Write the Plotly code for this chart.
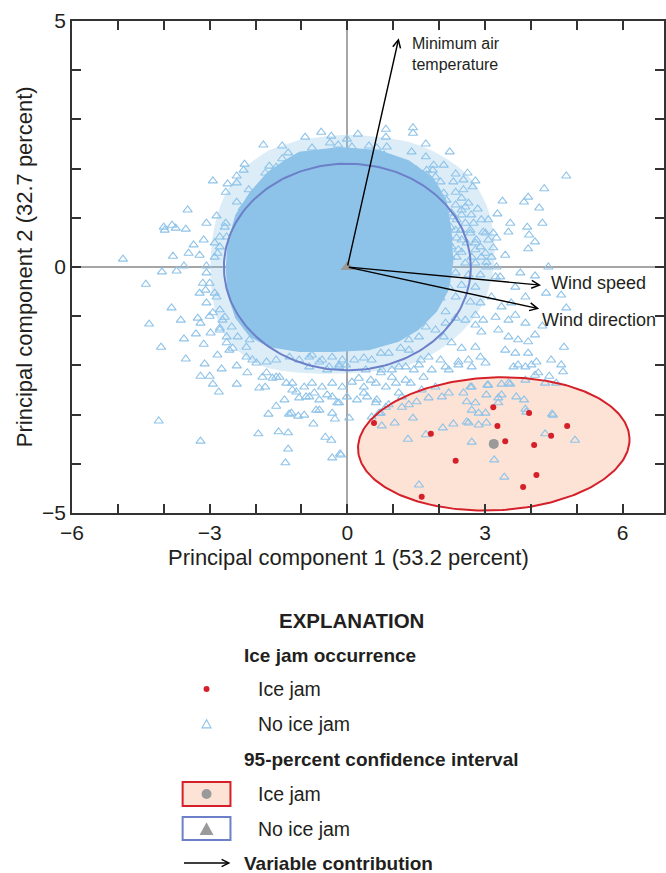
import numpy as np
import plotly.graph_objects as go

# ---------------------------------------------------------------------------
# Principal component scores
# ---------------------------------------------------------------------------
ice_jam_pc1 = [0.58, 3.18, 3.96, 3.27, 4.79, 1.82, 4.44, 3.44, 4.07, 2.36, 4.12, 3.83, 1.62]
ice_jam_pc2 = [-3.17, -2.85, -2.97, -3.23, -3.23, -3.39, -3.43, -3.54, -3.62, -3.94, -4.23, -4.47, -4.67]

# No-ice-jam days: outline of the solid (fully overplotted) centre of the cloud
core_pc1 = [-1.05, -0.18, 0.69, 1.34, 1.88, 2.16, 2.27, 2.31, 2.21, 1.95, 1.55, 1.12, 0.47,
            -0.29, -1.05, -1.70, -2.13, -2.44, -2.61, -2.65, -2.61, -2.44, -2.13, -1.74, -1.37]
core_pc2 = [2.34, 2.44, 2.38, 2.17, 1.81, 1.36, 0.75, 0.10, -0.47, -0.91, -1.28, -1.52, -1.69,
            -1.73, -1.73, -1.63, -1.42, -1.04, -0.57, -0.02, 0.51, 1.06, 1.52, 1.93, 2.17]

# No-ice-jam days: outline of the heavily overplotted band around the centre
band_pc1 = [-1.05, -0.18, 0.69, 1.55, 2.21, 2.68, 3.03, 3.20, 3.16, 2.94, 2.53, 1.99, 1.34,
            0.47, -0.40, -1.26, -1.92, -2.39, -2.74, -2.93, -2.98, -2.91, -2.67, -2.24, -1.70]
band_pc2 = [2.58, 2.68, 2.64, 2.48, 2.17, 1.81, 1.26, 0.55, -0.16, -0.77, -1.28, -1.69, -1.99,
            -2.13, -2.17, -2.13, -1.99, -1.69, -1.28, -0.67, 0.04, 0.75, 1.46, 2.01, 2.38]

# No-ice-jam days: individually visible scores, (PC1, PC2)
no_jam_upper_left = [
    (-1.83, 2.48), (-1.42, 2.46), (-1.29, 2.32), (-1.42, 2.20), (-2.24, 2.09), (-2.26, 1.97),
    (-1.70, 2.05), (-1.79, 1.91), (-2.41, 1.85), (-2.93, 1.75), (-2.61, 1.69), (-2.41, 1.71),
    (-2.65, 1.52), (-2.15, 1.57), (-1.89, 1.63), (-3.48, 1.16), (-2.85, 1.04), (-2.41, 1.32),
    (-2.28, 1.20), (-1.98, 1.36), (-3.07, 0.89), (-4.00, 0.81), (-3.82, 0.85), (-3.74, 0.79),
    (-3.52, 0.77), (-3.98, 0.75), (-2.65, 0.89), (-3.13, 0.55), (-3.35, 0.45), (-3.46, 0.28),
    (-3.22, 0.24), (-3.80, 0.22), (-2.89, 0.49), (-2.83, 0.28), (-4.89, 0.16), (-3.56, 0.02),
    (-3.07, 0.02), (-2.78, 0.61), (-0.92, 2.64), (-0.57, 2.74), (-0.35, 2.66), (-0.38, 2.52),
    (-0.20, 2.48), (-0.77, 2.42), (-0.42, 2.30), (-1.55, 2.03), (-2.67, 0.81), (-2.63, 0.61),
    (-2.78, 0.41), (-2.89, 0.20),
]
no_jam_upper_right = [
    (-0.01, 2.60), (0.10, 2.44), (0.23, 2.70), (0.47, 2.46), (0.64, 2.42), (0.84, 2.80),
    (0.84, 2.64), (0.86, 2.44), (0.80, 2.28), (0.62, 2.28), (1.43, 2.83), (1.43, 2.72),
    (1.71, 2.50), (1.40, 2.34), (1.71, 2.24), (2.23, 2.34), (1.88, 2.07), (2.10, 2.07),
    (1.86, 1.97), (2.36, 1.89), (2.62, 1.91), (2.53, 1.77), (2.31, 1.73), (2.73, 1.63),
    (2.79, 1.75), (1.73, 1.87), (1.60, 1.83), (1.66, 1.71), (1.92, 1.83), (2.03, 1.73),
    (1.92, 1.61), (2.10, 1.50), (2.36, 1.52), (2.49, 1.40), (2.64, 1.30), (2.84, 1.18),
    (2.92, 0.96), (3.01, 0.69), (2.79, 0.49), (2.90, 0.41), (2.71, 0.20), (2.79, 0.08),
    (2.49, 1.16), (2.31, 1.02), (2.57, 0.89), (2.68, 0.75), (2.36, 0.75), (2.49, 0.55),
    (2.21, 0.49), (2.42, 0.35), (2.25, 0.20), (1.92, 1.22), (2.14, 1.16), (1.77, 1.42),
    (2.16, 1.36), (1.84, 1.02), (2.05, 0.89), (1.77, 0.75), (1.92, 0.61), (1.77, 0.35),
    (1.92, 0.20), (3.01, 0.28), (3.03, 0.10),
]
no_jam_right_band = [
    (2.53, 1.57), (2.57, 1.22), (2.36, 1.26), (2.27, 1.10), (2.49, 1.06), (2.70, 1.06),
    (3.07, 0.96), (2.96, 0.71), (3.18, 0.69), (3.25, 0.59), (2.75, 0.89), (2.38, 0.96),
    (2.25, 0.81), (2.47, 0.75), (2.68, 0.69), (2.81, 0.55), (3.07, 0.55), (3.18, 0.39),
    (2.79, 0.35), (2.60, 0.49), (2.38, 0.59), (2.21, 0.61), (2.27, 0.41), (2.49, 0.30),
    (2.92, 0.20), (3.14, 0.20), (3.03, 0.00), (3.25, 0.00), (3.33, -0.20), (2.57, 0.08),
    (2.38, 0.20), (2.16, 0.28), (2.10, 0.49), (2.03, 0.75), (1.94, 1.00), (2.03, 1.20),
    (1.94, 1.36), (1.88, 1.52), (1.51, 1.97), (1.73, 1.97), (1.29, 2.01), (1.19, 2.03),
    (1.08, 1.87),
]
no_jam_far_right = [
    (4.77, 1.85), (4.29, 1.59), (3.94, 1.42), (3.85, 1.32), (3.38, 1.34), (4.18, 1.20),
    (3.55, 0.89), (3.27, 1.08), (3.92, 0.81), (4.25, 0.89), (3.96, 0.65), (4.09, 0.51),
    (3.94, 0.37), (3.51, 0.71), (4.38, 0.00), (3.44, 0.24), (3.77, -0.12), (4.09, -0.18),
    (4.33, -0.53), (4.66, -0.57), (4.77, -0.83), (4.25, -1.20), (4.72, -1.63), (3.88, -0.61),
    (3.66, -0.41), (3.57, -0.73), (3.36, -0.81), (3.23, -0.20), (3.66, -0.98), (3.51, -1.08),
    (3.88, -1.14), (4.09, -1.38), (3.94, -1.52), (3.72, -1.48), (3.51, -1.42), (3.66, -1.75),
    (3.94, -1.75), (4.12, -1.93), (4.44, -1.89), (4.66, -1.99), (4.70, -2.13), (4.16, -2.15),
    (3.88, -2.03), (3.62, -2.03), (3.44, -1.69), (3.29, -1.28), (3.23, -1.02), (3.14, -0.61),
    (4.55, -2.36), (4.31, -2.36), (3.88, -2.30), (3.51, -2.36), (3.36, -2.60), (3.68, -2.64),
    (3.88, -2.89), (4.48, -3.01), (3.07, -2.40), (2.71, -2.44), (2.79, -2.76), (3.29, -2.76),
    (3.01, -2.97), (2.64, -3.17), (2.86, -3.21),
]
no_jam_lower_left = [
    (-4.39, -0.35), (-4.04, -0.10), (-3.72, -0.08), (-3.83, -0.83), (-3.63, -1.08), (-4.32, -1.16),
    (-3.56, -1.46), (-4.06, -1.63), (-3.52, -1.87), (-3.26, -1.04), (-3.20, -1.14), (-3.30, -1.36),
    (-3.13, -1.57), (-2.98, -1.34), (-3.11, -1.97), (-3.20, -2.22), (-3.00, -2.22), (-2.93, -2.38),
    (-2.80, -2.54), (-2.74, -2.07), (-2.83, -1.79), (-2.41, -2.38), (-2.41, -2.01), (-2.18, -2.15),
    (-1.92, -2.46), (-1.79, -2.44), (-1.55, -2.83), (-1.72, -2.99), (-1.94, -3.39), (-1.50, -3.35),
    (-1.29, -3.37), (-1.29, -3.70), (-1.35, -3.98), (-1.37, -2.70), (-1.22, -2.97), (-1.20, -2.50),
    (-3.22, -0.53), (-3.00, -1.00), (-3.15, -0.33), (-3.09, -0.47), (-2.63, -1.54), (-2.50, -1.65),
    (-2.20, -1.83), (-1.98, -1.95), (-1.76, -2.15), (-1.55, -2.24), (-1.33, -2.36), (-2.13, -1.48),
    (-2.52, -1.22), (-2.78, -1.28), (-4.11, -3.13), (-3.20, -3.54), (-0.33, -3.88), (-0.16, -3.80),
    (-0.48, -3.46), (-0.35, -3.52), (-1.27, -2.99), (-1.07, -3.03), (-0.94, -3.01), (-0.74, -3.19),
    (-0.27, -3.09), (-1.05, -2.66), (-0.90, -2.64), (-0.72, -2.56), (-0.61, -2.91), (-0.33, -2.64),
    (-0.18, -2.76), (-1.85, -2.24), (-1.63, -2.26), (-1.48, -2.24), (-1.20, -2.36), (-2.07, -1.89),
    (-1.76, -1.93), (-1.55, -1.89), (-1.26, -1.83), (-1.05, -1.89), (-0.83, -1.83), (-0.61, -1.93),
    (-0.40, -2.03), (-0.18, -1.99), (-0.03, -1.99), (-2.39, -1.42), (-2.20, -1.63), (-1.92, -1.38),
    (-2.57, -1.69), (-2.78, -1.24), (-2.67, -1.02), (-3.07, -0.73), (-2.85, -0.61), (-3.07, -0.12),
    (-3.00, -0.33), (-2.89, -0.53), (-2.78, -0.87), (-2.93, -0.93), (-2.72, -1.08), (-2.63, -1.42),
]
no_jam_lower_centre = [
    (-0.77, -1.79), (-0.55, -1.89), (-0.33, -1.83), (-0.11, -1.89), (0.15, -1.89), (0.36, -1.85),
    (0.53, -1.89), (0.73, -1.75), (0.90, -1.75), (1.16, -1.65), (1.34, -1.69), (1.60, -1.89),
    (1.77, -1.83), (2.03, -1.89), (2.21, -2.09), (2.42, -1.93), (2.64, -1.89), (2.90, -1.83),
    (1.45, -2.09), (1.66, -2.24), (1.27, -2.30), (1.06, -2.36), (0.84, -2.44), (0.62, -2.36),
    (0.36, -2.44), (0.10, -2.34), (-0.11, -2.44), (-0.33, -2.36), (-0.55, -2.44), (-0.77, -2.36),
    (-0.94, -2.44), (-1.11, -2.54), (-0.83, -2.64), (-0.61, -2.70), (-0.44, -2.60), (-0.22, -2.76),
    (-0.01, -2.64), (0.21, -2.70), (0.43, -2.64), (0.64, -2.70), (-0.68, -2.91), (-0.33, -2.97),
    (1.19, -2.64), (0.90, -2.80), (0.73, -2.97), (0.97, -2.24), (2.10, -1.42), (2.27, -1.54),
    (2.49, -1.65), (2.79, -1.63), (1.92, -1.28), (2.14, -1.14), (2.36, -1.04), (2.57, -1.08),
    (2.79, -1.18), (2.92, -1.32), (2.96, -1.08), (2.14, -0.91), (1.84, -0.67), (2.03, -0.63),
    (2.36, -0.61), (2.68, -0.71), (2.90, -0.73), (1.77, -0.51), (2.21, -0.41), (2.49, -0.37),
    (2.79, -0.41), (2.90, -0.16), (2.64, -0.16), (2.36, -0.12), (2.14, -0.26), (1.92, -0.33),
    (1.71, -0.26), (2.79, -0.98), (1.62, -0.83), (1.49, -0.98), (1.27, -1.14), (1.71, -1.22),
    (1.56, -1.42), (1.12, -1.34), (0.90, -1.48), (1.34, -1.48), (0.75, -1.42), (0.53, -1.54),
    (0.32, -1.54), (0.10, -1.59), (-0.83, -2.03), (-0.44, -2.09), (-0.18, -2.03), (0.40, -2.09),
    (0.75, -2.09), (1.12, -2.03),
]
no_jam_lower_right = [
    (0.04, -3.07), (-0.14, -3.82), (0.75, -3.23), (1.03, -3.17), (1.32, -3.50), (1.43, -3.07),
    (1.71, -3.41), (2.08, -3.27), (2.31, -3.19), (2.60, -3.15), (2.71, -3.56), (3.03, -3.17),
    (3.20, -3.92), (3.42, -4.27), (1.56, -4.43), (3.90, -2.95), (4.46, -2.99), (4.31, -3.39),
    (4.96, -3.52), (2.53, -2.56), (2.68, -2.44), (3.05, -2.40), (3.36, -2.38), (3.55, -2.38),
    (4.09, -2.20), (4.40, -2.22), (3.85, -2.70), (3.29, -2.66), (3.03, -2.60), (2.60, -2.74),
    (2.71, -2.91), (2.86, -2.97), (2.21, -2.56), (2.06, -2.64), (1.77, -2.66), (1.51, -2.74),
    (1.34, -2.80), (1.19, -2.85), (0.84, -2.85), (0.69, -2.97), (0.53, -3.05), (1.92, -2.44),
    (1.62, -2.50), (1.38, -2.36), (1.12, -2.56), (0.62, -2.76), (0.36, -2.56), (0.51, -2.30),
    (0.25, -2.26), (0.73, -2.15), (0.97, -2.09), (1.27, -2.03), (1.56, -1.99), (1.84, -2.09),
    (2.14, -2.03), (2.42, -1.99), (2.71, -2.03), (3.01, -1.95), (3.72, -1.99), (4.01, -1.99),
]

# Variable loadings (biplot arrows)
variables = ["Minimum air<br>temperature", "Wind speed", "Wind direction"]
loading_pc1 = [1.12, 4.22, 4.18]
loading_pc2 = [4.65, -0.37, -0.85]
label_pc1 = [1.36, 4.40, 4.20]
label_pc2 = [4.33, -0.33, -1.08]

# 95-percent confidence ellipses: centre, semi-axes (PC1, PC2) and tilt in degrees
no_jam_centre = (0.0, 0.0)
no_jam_ellipse = (2.69, 2.10, 0.0)
ice_jam_ellipse = (2.96, 1.35, 2.2)

# Axis ticks
x_ticks = list(range(-6, 7))
x_tick_text = {-6: "\u22126", -3: "\u22123", 0: "0", 3: "3", 6: "6"}
y_ticks = list(range(-5, 6))
y_tick_text = {-5: "\u22125", 0: "0", 5: "5"}

# ---------------------------------------------------------------------------
FONT = "Liberation Sans Narrow, Arial Narrow, Liberation Sans, sans-serif"
TXT = "#231f20"
BLUE_PT = "#8ec3e9"
BLUE_BAND = "rgba(142,195,233,0.30)"
BLUE_ELL = "#6b80c8"
RED = "#d5202a"
PEACH = "#fce3d6"
GREY = "#9a9a9a"

W, H = 666, 873
ML, MR, MT, MB = 72, 0, 21, 360
PW, PH = W - ML - MR, H - MT - MB


def ellipse(cx, cy, a, b, deg, n=240):
    t = np.linspace(0, 2 * np.pi, n)
    th = np.deg2rad(deg)
    ex, ey = a * np.cos(t), b * np.sin(t)
    return (cx + ex * np.cos(th) - ey * np.sin(th),
            cy + ex * np.sin(th) + ey * np.cos(th))


def paper(px, py):
    """Page pixel position -> paper coordinates (for titles and the explanation block)."""
    return (px - ML) / PW, (H - MB - py) / PH


no_jam = (no_jam_upper_left + no_jam_upper_right + no_jam_right_band + no_jam_far_right +
          no_jam_lower_left + no_jam_lower_centre + no_jam_lower_right)
nj_x = [p[0] for p in no_jam]
nj_y = [p[1] for p in no_jam]

ij_centre = (float(np.mean(ice_jam_pc1)), float(np.mean(ice_jam_pc2)))
rx, ry = ellipse(*ij_centre, *ice_jam_ellipse)
bx, by = ellipse(*no_jam_centre, *no_jam_ellipse)

fig = go.Figure()

# ice-jam ellipse fill
fig.add_trace(go.Scatter(x=rx, y=ry, mode="lines", fill="toself", fillcolor=PEACH,
                         line=dict(width=0), hoverinfo="skip", showlegend=False))
# overplotted band and solid centre of the no-ice-jam cloud
fig.add_trace(go.Scatter(x=band_pc1, y=band_pc2, mode="lines", fill="toself",
                         fillcolor=BLUE_BAND, line=dict(width=0, shape="spline"),
                         hoverinfo="skip", showlegend=False))
fig.add_trace(go.Scatter(x=core_pc1, y=core_pc2, mode="lines", fill="toself",
                         fillcolor=BLUE_PT, line=dict(width=0),
                         hoverinfo="skip", showlegend=False))
# no-ice-jam scores
fig.add_trace(go.Scatter(x=nj_x, y=nj_y, mode="markers", showlegend=False,
                         marker=dict(symbol="triangle-up-open", size=8, color=BLUE_PT,
                                     line=dict(width=1.1, color=BLUE_PT))))
# ellipse outlines
fig.add_trace(go.Scatter(x=bx, y=by, mode="lines", line=dict(color=BLUE_ELL, width=2),
                         hoverinfo="skip", showlegend=False))
fig.add_trace(go.Scatter(x=rx, y=ry, mode="lines", line=dict(color=RED, width=2),
                         hoverinfo="skip", showlegend=False))
# ice-jam scores
fig.add_trace(go.Scatter(x=ice_jam_pc1, y=ice_jam_pc2, mode="markers", showlegend=False,
                         marker=dict(symbol="circle", size=6, color=RED)))
# group centroids
fig.add_trace(go.Scatter(x=[no_jam_centre[0]], y=[no_jam_centre[1]], mode="markers",
                         showlegend=False,
                         marker=dict(symbol="triangle-up", size=12, color=GREY)))
fig.add_trace(go.Scatter(x=[ij_centre[0]], y=[ij_centre[1]], mode="markers",
                         showlegend=False,
                         marker=dict(symbol="circle", size=10, color=GREY)))

annotations = []
# loading arrows and their labels
for name, lx, ly, tx, ty in zip(variables, loading_pc1, loading_pc2, label_pc1, label_pc2):
    annotations.append(dict(x=lx, y=ly, ax=0, ay=0, xref="x", yref="y", axref="x", ayref="y",
                            text="", showarrow=True, arrowhead=5, arrowsize=1.1,
                            arrowwidth=1.4, arrowcolor="#000", standoff=0))
    big = "Wind" in name
    annotations.append(dict(x=tx, y=ty, xref="x", yref="y", text=name, showarrow=False,
                            xanchor="left", yanchor="middle", align="left",
                            font=dict(family=FONT, size=18 if big else 16, color=TXT)))

# axis titles
ax_x, ax_y = paper(349, 557)
annotations.append(dict(x=ax_x, y=ax_y, xref="paper", yref="paper", showarrow=False,
                        xanchor="center", yanchor="middle",
                        text="Principal component 1 (53.2 percent)",
                        font=dict(family=FONT, size=22, color=TXT)))
ay_x, ay_y = paper(24, 267)
annotations.append(dict(x=ay_x, y=ay_y, xref="paper", yref="paper", showarrow=False,
                        xanchor="center", yanchor="middle",
                        textangle=-90, text="Principal component 2 (32.7 percent)",
                        font=dict(family=FONT, size=22, color=TXT)))


# explanation block
def label(px, py, text, size=19.5, bold=False, anchor="left"):
    x, y = paper(px, py)
    annotations.append(dict(x=x, y=y, xref="paper", yref="paper", showarrow=False,
                            xanchor=anchor, yanchor="middle",
                            text=f"<b>{text}</b>" if bold else text,
                            font=dict(family=FONT, size=size, color=TXT)))


label(352, 620, "EXPLANATION", size=20.5, bold=True, anchor="center")
label(243, 655, "Ice jam occurrence", size=19, bold=True)
label(257, 689, "Ice jam")
label(257, 724, "No ice jam")
label(243, 759, "95-percent confidence interval", size=19, bold=True)
label(257, 794, "Ice jam")
label(257, 829, "No ice jam")
label(243, 863, "Variable contribution", size=19, bold=True)

ax0, ay0 = paper(231, 863)
annotations.append(dict(x=ax0, y=ay0, xref="paper", yref="paper", ax=-48, ay=0,
                        text="", showarrow=True, arrowhead=5, arrowsize=1.1,
                        arrowwidth=1.3, arrowcolor="#000", standoff=0))

shapes = []


def box(x0, y0, x1, y1, fill, line):
    a, b = paper(x0, y1)
    c, d = paper(x1, y0)
    shapes.append(dict(type="rect", xref="paper", yref="paper", x0=a, y0=b, x1=c, y1=d,
                       fillcolor=fill, line=dict(color=line, width=2)))


def dot(cx, cy, r, color):
    a, b = paper(cx - r, cy + r)
    c, d = paper(cx + r, cy - r)
    shapes.append(dict(type="circle", xref="paper", yref="paper", x0=a, y0=b, x1=c, y1=d,
                       fillcolor=color, line=dict(width=0)))


def tri(cx, cy, half, fill, line, lw):
    p = [paper(cx - half, cy + half * 0.85), paper(cx + half, cy + half * 0.85),
         paper(cx, cy - half * 0.95)]
    path = "M{},{} L{},{} L{},{} Z".format(p[0][0], p[0][1], p[1][0], p[1][1], p[2][0], p[2][1])
    shapes.append(dict(type="path", xref="paper", yref="paper", path=path,
                       fillcolor=fill, line=dict(color=line, width=lw)))


dot(207, 689, 3, RED)
tri(207, 724, 4.5, "rgba(0,0,0,0)", BLUE_PT, 1.1)
box(183, 782, 231, 806, PEACH, RED)
dot(207, 794, 5, GREY)
box(183, 817, 231, 840, "white", BLUE_ELL)
tri(207, 829, 7, GREY, GREY, 0)

axis_common = dict(showgrid=False, ticks="inside", ticklen=9, tickwidth=1.5,
                   tickcolor="#333", showline=True, linecolor="#333", linewidth=1.5,
                   mirror="ticks", zeroline=True, zerolinecolor="#a6a6a6",
                   zerolinewidth=1.5, tickfont=dict(family=FONT, size=21, color=TXT))

fig.update_layout(
    width=W, height=H, margin=dict(l=ML, r=MR, t=MT, b=MB, pad=0),
    paper_bgcolor="white", plot_bgcolor="white", showlegend=False,
    xaxis=dict(range=[-6, 6.9], tickmode="array", tickvals=x_ticks,
               ticktext=[x_tick_text.get(v, "") for v in x_ticks], **axis_common),
    yaxis=dict(range=[-5, 5], tickmode="array", tickvals=y_ticks,
               ticktext=[y_tick_text.get(v, "") for v in y_ticks], **axis_common),
    annotations=annotations, shapes=shapes,
)

fig.write_html("out.html")
